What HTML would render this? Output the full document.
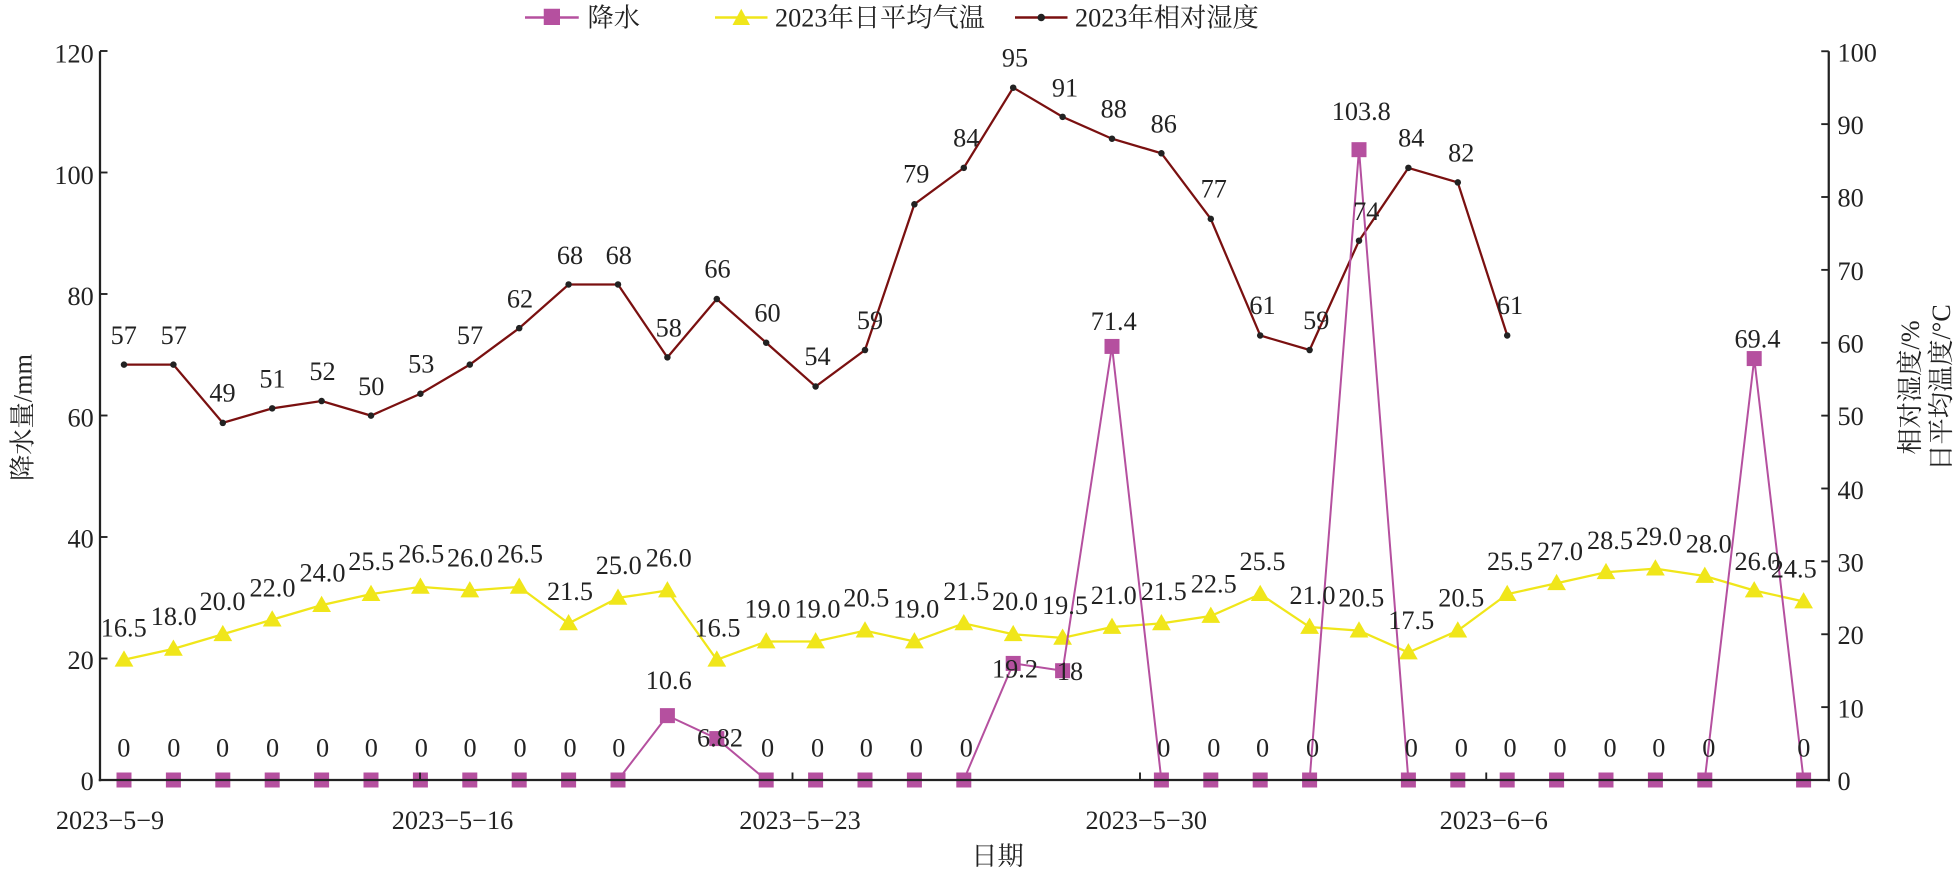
<!DOCTYPE html>
<html><head><meta charset="utf-8"><style>
html,body{margin:0;padding:0;background:#fff;width:100%;height:100%;overflow:hidden}
svg{display:block;width:100vw;height:100vh;font-family:"Liberation Serif","Noto Serif CJK SC","Noto Sans CJK SC",serif;}
text{font-size:21px;fill:#222}
</style></head><body>
<svg id="s" viewBox="0 0 1565.6 697.6" preserveAspectRatio="none" xmlns="http://www.w3.org/2000/svg">
<g id="shapes"></g>
<g stroke="#222" stroke-width="1.8" fill="none">
<line x1="80" y1="41" x2="80" y2="625"/>
<line x1="1463" y1="41" x2="1463" y2="625"/>
<line x1="79" y1="624" x2="1464" y2="624"/>
</g>
<g id="ticks" stroke="#222" stroke-width="1.5"></g>
<g text-anchor="end">
<text x="75" y="632">0</text><text x="75" y="535">20</text><text x="75" y="438">40</text><text x="75" y="341">60</text><text x="75" y="244">80</text><text x="75" y="147">100</text><text x="75" y="50">120</text>
</g>
<g>
<text x="1470" y="632">0</text><text x="1470" y="574">10</text><text x="1470" y="515">20</text><text x="1470" y="457">30</text><text x="1470" y="399">40</text><text x="1470" y="340">50</text><text x="1470" y="282">60</text><text x="1470" y="224">70</text><text x="1470" y="165">80</text><text x="1470" y="107">90</text><text x="1470" y="49">100</text>
</g>
<g text-anchor="middle">
<text x="88" y="663">2023−5−9</text><text x="362" y="663">2023−5−16</text><text x="640" y="663">2023−5−23</text><text x="917" y="663">2023−5−30</text><text x="1195" y="663">2023−6−6</text>
<text x="798" y="692">日期</text>
<text transform="translate(25,334) rotate(-90)">降水量/mm</text>
<text transform="translate(1535,310) rotate(-90)">相对湿度/%</text>
<text transform="translate(1560,310) rotate(-90)">日平均温度/°C</text>
</g>
<g>
<line x1="420" y1="14" x2="463" y2="14" stroke="#b5509f" stroke-width="2"/><rect x="435" y="7" width="13" height="13" fill="#b5509f"/>
<text x="470" y="21">降水</text>
<line x1="572" y1="14" x2="614" y2="14" stroke="#f0e61a" stroke-width="2"/><polygon points="593,7 600,20 586,20" fill="#f0e61a"/>
<text x="620" y="21">2023年日平均气温</text>
<line x1="812" y1="14" x2="854" y2="14" stroke="#7a1010" stroke-width="2"/><circle cx="833" cy="14" r="3" fill="#222"/>
<text x="860" y="21">2023年相对湿度</text>
</g>
<g text-anchor="middle">
<text x="99" y="275">57</text><text x="139" y="275">57</text><text x="178" y="321">49</text><text x="218" y="310">51</text><text x="258" y="304">52</text><text x="297" y="316">50</text><text x="337" y="298">53</text><text x="376" y="275">57</text><text x="416" y="246">62</text><text x="456" y="211">68</text><text x="495" y="211">68</text><text x="535" y="269">58</text><text x="574" y="222">66</text><text x="614" y="257">60</text><text x="654" y="292">54</text><text x="696" y="263">59</text><text x="733" y="146">79</text><text x="773" y="117">84</text><text x="812" y="53">95</text><text x="852" y="77">91</text><text x="891" y="94">88</text><text x="931" y="106">86</text><text x="971" y="158">77</text><text x="1010" y="251">61</text><text x="1053" y="263">59</text><text x="1093" y="176">74</text><text x="1129" y="117">84</text><text x="1169" y="129">82</text><text x="1208" y="251">61</text>
</g>
<g text-anchor="middle">
<text x="99" y="509">16.5</text><text x="139" y="500">18.0</text><text x="178" y="488">20.0</text><text x="218" y="477">22.0</text><text x="258" y="465">24.0</text><text x="297" y="456">25.5</text><text x="337" y="450">26.5</text><text x="376" y="453">26.0</text><text x="416" y="450">26.5</text><text x="456" y="480">21.5</text><text x="495" y="459">25.0</text><text x="535" y="453">26.0</text><text x="574" y="509">16.5</text><text x="614" y="494">19.0</text><text x="654" y="494">19.0</text><text x="693" y="485">20.5</text><text x="733" y="494">19.0</text><text x="773" y="480">21.5</text><text x="812" y="488">20.0</text><text x="852" y="491">19.5</text><text x="891" y="483">21.0</text><text x="931" y="480">21.5</text><text x="971" y="474">22.5</text><text x="1010" y="456">25.5</text><text x="1050" y="483">21.0</text><text x="1089" y="485">20.5</text><text x="1129" y="503">17.5</text><text x="1169" y="485">20.5</text><text x="1208" y="456">25.5</text><text x="1248" y="448">27.0</text><text x="1288" y="439">28.5</text><text x="1327" y="436">29.0</text><text x="1367" y="442">28.0</text><text x="1406" y="456">26.0</text><text x="1435" y="462">24.5</text>
</g>
<g text-anchor="middle">
<text x="535" y="551">10.6</text><text x="576" y="597">6.82</text><text x="812" y="542">19.2</text><text x="856" y="544">18</text><text x="891" y="264">71.4</text><text x="1089" y="96">103.8</text><text x="1406" y="278">69.4</text>
<text x="99" y="605">0</text><text x="139" y="605">0</text><text x="178" y="605">0</text><text x="218" y="605">0</text><text x="258" y="605">0</text><text x="297" y="605">0</text><text x="337" y="605">0</text><text x="376" y="605">0</text><text x="416" y="605">0</text><text x="456" y="605">0</text><text x="495" y="605">0</text>
<text x="614" y="605">0</text><text x="654" y="605">0</text><text x="693" y="605">0</text><text x="733" y="605">0</text><text x="773" y="605">0</text>
<text x="931" y="605">0</text><text x="971" y="605">0</text><text x="1010" y="605">0</text><text x="1050" y="605">0</text>
<text x="1129" y="605">0</text><text x="1169" y="605">0</text><text x="1208" y="605">0</text><text x="1248" y="605">0</text><text x="1288" y="605">0</text><text x="1327" y="605">0</text><text x="1367" y="605">0</text><text x="1443" y="605">0</text>
</g>
</svg>
<script>
var NS="http://www.w3.org/2000/svg",g=document.getElementById("shapes"),tk=document.getElementById("ticks");
function el(n,a,p){var e=document.createElementNS(NS,n);for(var k in a)e.setAttribute(k,a[k]);(p||g).appendChild(e);return e;}
function X(i){return 99.2+39.52*i;}
var hum=[57,57,49,51,52,50,53,57,62,68,68,58,66,60,54,59,79,84,95,91,88,86,77,61,59,74,84,82,61];
var tmp=[16.5,18,20,22,24,25.5,26.5,26,26.5,21.5,25,26,16.5,19,19,20.5,19,21.5,20,19.5,21,21.5,22.5,25.5,21,20.5,17.5,20.5,25.5,27,28.5,29,28,26,24.5];
var pr=[0,0,0,0,0,0,0,0,0,0,0,10.6,6.82,0,0,0,0,0,19.2,18,71.4,0,0,0,0,103.8,0,0,0,0,0,0,0,69.4,0];
function R(v){return 624-5.83*v;} function L(v){return 624-4.858*v;}
function pts(a,f){return a.map(function(v,i){return X(i).toFixed(1)+","+f(v).toFixed(1)}).join(" ");}
el("polyline",{points:pts(tmp,R),fill:"none",stroke:"#f0e61a","stroke-width":1.8});
tmp.forEach(function(v,i){var x=X(i),y=R(v);el("polygon",{points:x+","+(y-7.5)+" "+(x+7.5)+","+(y+5.5)+" "+(x-7.5)+","+(y+5.5),fill:"#f0e61a"});});
el("polyline",{points:pts(hum,R),fill:"none",stroke:"#7a1010","stroke-width":1.8});
hum.forEach(function(v,i){el("circle",{cx:X(i),cy:R(v),r:2.6,fill:"#222"});});
el("polyline",{points:pts(pr,L),fill:"none",stroke:"#b5509f","stroke-width":1.6});
pr.forEach(function(v,i){el("rect",{x:X(i)-6,y:L(v)-6,width:12,height:12,fill:"#b5509f"});});
for(var k=0;k<=6;k++){var y=624-97.2*k;el("line",{x1:80,y1:y,x2:86,y2:y},tk);}
for(var k=0;k<=10;k++){var y=624-58.3*k;el("line",{x1:1457,y1:y,x2:1463,y2:y},tk);}
[336,634,912,1189].forEach(function(x){el("line",{x1:x,y1:624,x2:x,y2:618},tk);});
</script>
</body></html>
